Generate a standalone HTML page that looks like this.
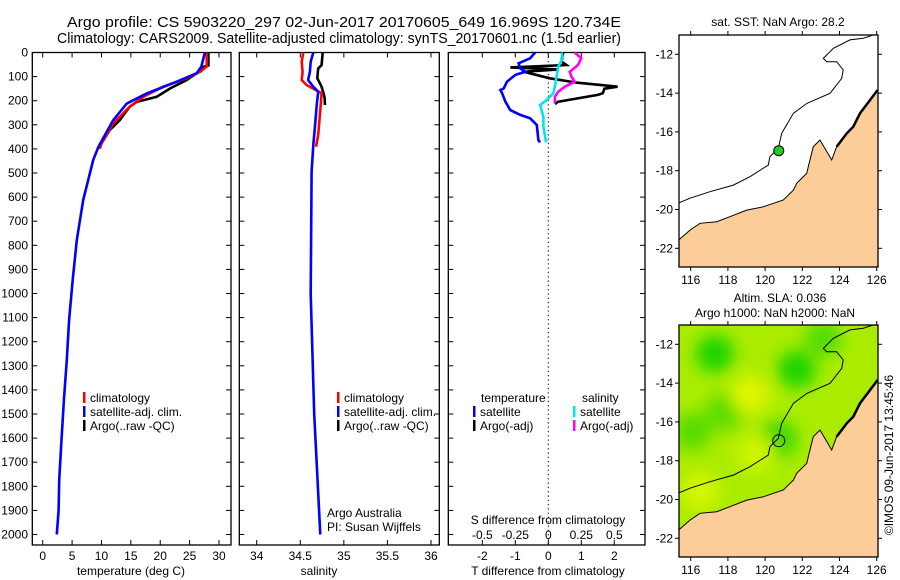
<!DOCTYPE html>
<html><head><meta charset="utf-8">
<style>
html,body{margin:0;padding:0;background:#fff;}
svg{display:block;font-family:"Liberation Sans",sans-serif;}
</style></head>
<body>
<svg id="fig" width="900" height="580" viewBox="0 0 900 580" xmlns="http://www.w3.org/2000/svg">
<text x="67" y="27" font-size="15" textLength="554" lengthAdjust="spacingAndGlyphs">Argo profile: CS 5903220_297 02-Jun-2017 20170605_649 16.969S 120.734E</text>
<text x="57" y="43" font-size="15" textLength="564" lengthAdjust="spacingAndGlyphs">Climatology: CARS2009. Satellite-adjusted climatology: synTS_20170601.nc (1.5d earlier)</text>
<g id="g1"></g>
<g id="g2"></g>
<g id="g3"></g>
<g id="m1"></g>
<g id="m2"></g>
<text transform="translate(893,455) rotate(-90)" font-size="12" text-anchor="middle">©IMOS 09-Jun-2017 13:45:46</text>
</svg>
<script>
// ---- data ----
const depthTicks = [0,100,200,300,400,500,600,700,800,900,1000,1100,1200,1300,1400,1500,1600,1700,1800,1900,2000];
const tempTicks = [0,5,10,15,20,25,30];
const salTicks = [34,34.5,35,35.5,36];
const salTickLabels = ["34","34.5","35","35.5","36"];
const tdiffTicks = [-2,-1,0,1,2];
const sdiffTicks = [-0.5,-0.25,0,0.25,0.5];
const sdiffTickLabels = ["-0.5","-0.25","0","0.25","0.5"];

const tempClimDepth = [0,58,80,107,142,184,225,295,377,400];
const tempClim = [27.9,27.9,26.8,24.5,20.5,17.1,14.8,12.0,10.0,9.7];
const tempSatDepth = [0,58,86,121,170,212,281,391,446,612,778,944,1110,1276,1442,1608,1774,1900,2000];
const tempSat = [27.6,27.0,26.2,22.8,17.7,14.3,12.0,9.5,8.6,6.9,5.8,5.1,4.5,4.1,3.6,3.2,2.8,2.7,2.4];
const tempArgoDepth = [0,54,58,86,114,149,184,205,225,281,322,377];
const tempArgo = [28.2,28.2,27.5,26.2,24.5,21.7,19.4,16.0,14.8,13.1,11.4,10.0];

const salClimDepth = [0,38,80,114,135,169,218,287,342,391];
const salClim = [34.535,34.516,34.527,34.516,34.573,34.745,34.734,34.718,34.706,34.68];
const salSatDepth = [0,38,80,114,142,163,218,301,384,495,1000,1500,2000];
const salSat = [34.65,34.62,34.611,34.59,34.65,34.706,34.688,34.67,34.65,34.63,34.62,34.66,34.73];
const salArgoDepth = [0,52,66,107,142,176,190,218];
const salArgo = [34.757,34.745,34.706,34.695,34.745,34.772,34.78,34.783];

const dTsatDepth = [0,24,45,66,80,93,121,149,156,169,204,239,259,273,301,363,373];
const dTsat = [-0.4,-0.55,-0.9,-0.85,-0.7,-1.0,-1.25,-1.35,-1.45,-1.4,-1.3,-1.15,-0.85,-0.55,-0.35,-0.3,-0.25];
const dTargoDepth = [0,38,52,62,70,80,107,125,142,150,169,176,204,214];
const dTargo = [0.45,0.4,0.55,-1.15,0.3,-0.75,0.05,0.85,2.1,1.7,1.65,1.5,0.3,0.2];
const dSsatDepth = [0,24,59,100,142,169,197,218,266,308,373];
const dSsat = [0.1,0.11,0.075,0.063,0.05,0.038,-0.012,-0.062,-0.037,-0.037,-0.017];
const dSargoDepth = [0,24,52,80,100,121,142,163,183,211];
const dSargo = [0.2,0.25,0.225,0.163,0.175,0.2,0.125,0.075,0.05,0.05];

const lonTicks = [116,118,120,122,124,126];
const latTicks = [-12,-14,-16,-18,-20,-22];
const coastLon = [115.39,115.96,116.5,117.4,118.11,119.01,119.9,120.98,121.52,121.7,122.24,122.32,122.59,122.95,123.58,123.85,124.39,124.74,125.1,125.64,126.05];
const coastLat = [-21.54,-21.06,-20.71,-20.63,-20.37,-20.03,-19.86,-19.51,-19.0,-18.65,-18.13,-17.79,-16.76,-16.42,-17.45,-16.76,-16.07,-15.73,-15.04,-14.36,-13.84];
const isoLon = [115.39,115.96,117.04,118.29,119.19,120.17,120.26,120.71,120.89,121.52,122.24,123.49,124.12,124.2,123.85,123.31,123.13,123.67,124.56,125.28,125.82];
const isoLat = [-19.65,-19.42,-19.08,-18.74,-18.31,-17.71,-17.28,-16.85,-16.07,-15.04,-14.53,-14.01,-13.24,-12.81,-12.38,-12.38,-12.21,-11.69,-11.26,-11.17,-11.0];
const argoLon = 120.734, argoLat = -16.969;
const slaBlobLon = [117.3,116.1,117.8,121.7,120.7,123.1,119.2,119.5,116.5];
const slaBlobLat = [-12.5,-16.5,-15.5,-13.3,-16.9,-11.7,-14.6,-17.6,-19.6];
const slaBlobVal = [1.0,0.6,0.55,1.0,0.8,0.6,-0.4,-0.1,-0.2];

// ---- helpers ----
const NS="http://www.w3.org/2000/svg";
function mk(parent,tag,attrs,txt){const e=document.createElementNS(NS,tag);for(const k in attrs)e.setAttribute(k,attrs[k]);if(txt!==undefined)e.textContent=txt;parent.appendChild(e);return e;}
const yTop=52.5, pxPer100=24.1, yBot=545;
const yD = d => yTop + d*pxPer100/100;
function lin(v0,p0,v1,p1){return v=>p0+(v-v0)*(p1-p0)/(v1-v0);}

function frame(g,x0,x1,name){
  const r=mk(g,'rect',{x:x0,y:yTop,width:x1-x0,height:yBot-yTop,fill:'none',stroke:'#000','stroke-width':1.3});
  
  
  depthTicks.forEach(d=>{
    const y=yD(d);
    mk(g,'line',{x1:x0,x2:x0+5,y1:y,y2:y,stroke:'#000'});
    mk(g,'line',{x1:x1-5,x2:x1,y1:y,y2:y,stroke:'#000'});
  });
}
function profile(g,xs,ds,xf,color,name){
  const pts=xs.map((v,i)=>xf(v).toFixed(1)+','+yD(ds[i]).toFixed(1)).join(' ');
  const p=mk(g,'polyline',{points:pts,fill:'none',stroke:color,'stroke-width':2.6,'stroke-linejoin':'miter'});
  
  
}
function legend(g,x,y,color,label,name){
  const le=mk(g,'g',{});
  
  
  mk(le,'rect',{x:x,y:y-10,width:2.5,height:11,fill:color});
  mk(le,'text',{x:x+7,y:y,'font-size':12},label);
}

// ---- panel 1: temperature ----
(function(){
  const g=document.getElementById('g1');
  const x0=32.3,x1=231, xf=lin(0,42.7,30,219);
  frame(g,x0,x1,'temperature-frame');
  depthTicks.forEach(d=>{
    const t=mk(g,'text',{x:28,y:yD(d)+4,'font-size':12,'text-anchor':'end'},String(d));
    
    
  });
  tempTicks.forEach(v=>{
    const x=xf(v);
    mk(g,'line',{x1:x,x2:x,y1:yTop,y2:yTop+5,stroke:'#000'});
    mk(g,'line',{x1:x,x2:x,y1:yBot-5,y2:yBot,stroke:'#000'});
    const t=mk(g,'text',{x:x,y:yBot+15,'font-size':12,'text-anchor':'middle'},String(v));
    
    
  });
  mk(g,'text',{x:131,y:575,'font-size':12,'text-anchor':'middle',},'temperature (deg C)');
  profile(g,tempArgo,tempArgoDepth,xf,'#000','temperature-argo-line');
  profile(g,tempClim,tempClimDepth,xf,'#ff0000','temperature-climatology-line');
  profile(g,tempSat,tempSatDepth,xf,'#0000ff','temperature-satellite-line');
  legend(g,83,402,'#ff0000','climatology','legend-climatology');
  legend(g,83,416,'#0000ff','satellite-adj. clim.','legend-satellite-adj');
  legend(g,83,430,'#000','Argo(..raw -QC)','legend-argo');
})();

// ---- panel 2: salinity ----
(function(){
  const g=document.getElementById('g2');
  const x0=239.3,x1=439.3, xf=lin(34,256.7,36,431);
  frame(g,x0,x1,'salinity-frame');
  salTicks.forEach((v,i)=>{
    const x=xf(v);
    mk(g,'line',{x1:x,x2:x,y1:yTop,y2:yTop+5,stroke:'#000'});
    mk(g,'line',{x1:x,x2:x,y1:yBot-5,y2:yBot,stroke:'#000'});
    const t=mk(g,'text',{x:x,y:yBot+15,'font-size':12,'text-anchor':'middle'},salTickLabels[i]);
    
    
  });
  mk(g,'text',{x:319,y:575,'font-size':12,'text-anchor':'middle',},'salinity');
  profile(g,salArgo,salArgoDepth,xf,'#000','salinity-argo-line');
  profile(g,salClim,salClimDepth,xf,'#ff0000','salinity-climatology-line');
  profile(g,salSat,salSatDepth,xf,'#0000ff','salinity-satellite-line');
  legend(g,337,402,'#ff0000','climatology','legend-climatology-2');
  legend(g,337,416,'#0000ff','satellite-adj. clim.','legend-satellite-adj-2');
  legend(g,337,430,'#000','Argo(..raw -QC)','legend-argo-2');
  mk(g,'text',{x:327,y:517,'font-size':12,},'Argo Australia');
  mk(g,'text',{x:327,y:531,'font-size':12,},'PI: Susan Wijffels');
})();

// ---- panel 3: differences ----
(function(){
  const g=document.getElementById('g3');
  const x0=448.3,x1=645, tf=lin(0,548.3,2,614.3), sf=lin(0,548.3,0.5,614.3);
  mk(g,'rect',{x:x0,y:yTop,width:x1-x0,height:yBot-yTop,fill:'none',stroke:'#000','stroke-width':1.3,});
  depthTicks.forEach(d=>{const y=yD(d);mk(g,'line',{x1:x0,x2:x0+5,y1:y,y2:y,stroke:'#000'});mk(g,'line',{x1:x1-5,x2:x1,y1:y,y2:y,stroke:'#000'});});
  mk(g,'line',{x1:tf(0),x2:tf(0),y1:yTop,y2:yBot,stroke:'#000','stroke-dasharray':'1.3,3',});
  tdiffTicks.forEach(v=>{
    const x=tf(v);
    mk(g,'line',{x1:x,x2:x,y1:yTop,y2:yTop+5,stroke:'#000'});
    mk(g,'line',{x1:x,x2:x,y1:yBot-5,y2:yBot,stroke:'#000'});
    const t=mk(g,'text',{x:x,y:yBot+15,'font-size':12,'text-anchor':'middle'},String(v));
    
    
  });
  sdiffTicks.forEach((v,i)=>{
    const t=mk(g,'text',{x:sf(v),y:539,'font-size':12,'text-anchor':'middle'},sdiffTickLabels[i]);
    
    
  });
  mk(g,'text',{x:548,y:524,'font-size':12,'text-anchor':'middle',},'S difference from climatology');
  mk(g,'text',{x:548,y:575,'font-size':12,'text-anchor':'middle',},'T difference from climatology');
  profile(g,dTargo,dTargoDepth,tf,'#000','tdiff-argo-line');
  profile(g,dSargo,dSargoDepth,sf,'#ff00ff','sdiff-argo-line');
  profile(g,dSsat,dSsatDepth,sf,'#00e5ee','sdiff-satellite-line');
  profile(g,dTsat,dTsatDepth,tf,'#0000ff','tdiff-satellite-line');
  mk(g,'text',{x:481,y:402,'font-size':12,},'temperature');
  mk(g,'text',{x:582,y:402,'font-size':12,},'salinity');
  legend(g,473,416,'#0000ff','satellite','legend-t-satellite');
  legend(g,473,430,'#000','Argo(-adj)','legend-t-argo');
  legend(g,573,416,'#00e5ee','satellite','legend-s-satellite');
  legend(g,573,430,'#ff00ff','Argo(-adj)','legend-s-argo');
})();

// ---- maps ----
function drawMap(gid,top,bot,isSla){
  const g=document.getElementById(gid);
  const x0=679,x1=878;
  const lx=lin(116,690.7,126,876.7);
  const ly=lin(-12,top+19.3,-22,top+19.3+194);
  const cid='clip'+gid;
  const cp=mk(g,'clipPath',{id:cid});mk(cp,'rect',{x:x0,y:top,width:x1-x0,height:bot-top});
  const inner=mk(g,'g',{'clip-path':'url(#'+cid+')'});
  if(isSla){
    const f=mk(g,'filter',{id:'blur'+gid,x:'-50%',y:'-50%',width:'200%',height:'200%'});
    mk(f,'feGaussianBlur',{stdDeviation:8});
    mk(inner,'rect',{x:x0,y:top,width:x1-x0,height:bot-top,fill:'#aaec00',});
    const bg=mk(inner,'g',{filter:'url(#blur'+gid+')'});
    slaBlobLon.forEach((lo,i)=>{
      const v=slaBlobVal[i];
      const col=v>0?'rgb('+Math.round(170-140*v)+','+Math.round(232-20*v)+',0)':'rgb('+Math.round(200-60*v)+',245,0)';
      const c=mk(bg,'ellipse',{cx:lx(lo),cy:ly(slaBlobLat[i]),rx:19,ry:19,fill:col});
      
      
    });
  }
  let pts=coastLon.map((lo,i)=>lx(lo).toFixed(1)+','+ly(coastLat[i]).toFixed(1));
  pts.push(lx(126.3)+','+ly(-13.84),lx(126.3)+','+(bot+2),(x0-2)+','+(bot+2),(x0-2)+','+ly(-21.54));
  mk(inner,'polygon',{points:pts.join(' '),fill:'#fccc99',stroke:'#000','stroke-width':1,});
  const rough=coastLon.map((lo,i)=>[lo,coastLat[i]]).filter(p=>p[0]>123.7).map(p=>lx(p[0]).toFixed(1)+','+ly(p[1]).toFixed(1)).join(' ');
  mk(inner,'polyline',{points:rough,fill:'none',stroke:'#000','stroke-width':2.5,});
  const iso=isoLon.map((lo,i)=>lx(lo).toFixed(1)+','+ly(isoLat[i]).toFixed(1)).join(' ');
  mk(inner,'polyline',{points:iso,fill:'none',stroke:'#000','stroke-width':1,});
  mk(inner,'circle',{cx:lx(argoLon),cy:ly(argoLat),r:isSla?6:5,fill:isSla?'none':'#22cc22',stroke:'#000','stroke-width':1,});
  mk(g,'rect',{x:x0,y:top,width:x1-x0,height:bot-top,fill:'none',stroke:'#000','stroke-width':1.3,});
  lonTicks.forEach(lo=>{
    const x=lx(lo);
    mk(g,'line',{x1:x,x2:x,y1:top-4,y2:top,stroke:'#000'});
    mk(g,'line',{x1:x,x2:x,y1:bot,y2:bot+4,stroke:'#000'});
    const t=mk(g,'text',{x:x,y:bot+17,'font-size':12,'text-anchor':'middle'},String(lo));
    
    
  });
  latTicks.forEach(la=>{
    const y=ly(la);
    mk(g,'line',{x1:x0-4,x2:x0,y1:y,y2:y,stroke:'#000'});
    mk(g,'line',{x1:x1,x2:x1+4,y1:y,y2:y,stroke:'#000'});
    const t=mk(g,'text',{x:x0-6,y:y+4,'font-size':12,'text-anchor':'end'},String(la));
    
    
  });
}
drawMap('m1',35,267,false);
drawMap('m2',325,557,true);
(function(){
  const g=document.getElementById('m1');
  mk(g,'text',{x:778,y:26,'font-size':12,'text-anchor':'middle',},'sat. SST: NaN Argo: 28.2');
  const g2=document.getElementById('m2');
  mk(g2,'text',{x:780,y:302,'font-size':12,'text-anchor':'middle',},'Altim. SLA: 0.036');
  mk(g2,'text',{x:775,y:317,'font-size':12,'text-anchor':'middle',},'Argo h1000: NaN h2000: NaN');
})();
</script>
</body></html>
